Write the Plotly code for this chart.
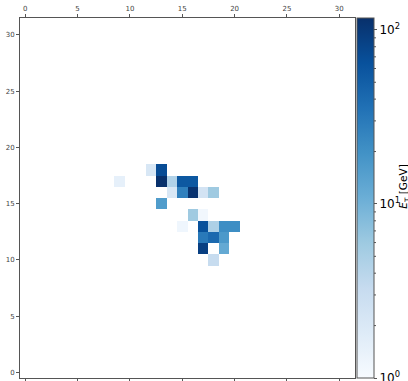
import numpy as np
import plotly.graph_objects as go

# Tower coordinates (eta index, phi index) and deposited E_T [GeV]
cell_x = [9, 12, 13, 13, 14, 15, 16, 14, 15, 16, 17, 18, 13, 16, 17, 15, 17, 18, 19, 20, 17, 18, 19, 17, 19, 18]
cell_y = [17, 18, 18, 17, 17, 17, 17, 16, 16, 16, 16, 16, 15, 14, 14, 13, 13, 13, 13, 13, 12, 12, 12, 11, 11, 10]
cell_et = [1.5, 2.1, 70, 115, 4.5, 57, 57, 2.1, 27, 110, 2.4, 5.9, 16, 5.9, 1.15, 1.2, 65, 4.8, 21, 21, 31, 41, 17, 89, 12, 3.2]

grid_n = 32
x_ticks = [0, 5, 10, 15, 20, 25, 30]
y_ticks = [0, 5, 10, 15, 20, 25, 30]
cbar_decades = [1, 10, 100]
cbar_labels = ["10<sup>0</sup>", "10<sup>1</sup>", "10<sup>2</sup>"]
cbar_minor = [2, 3, 4, 5, 6, 7, 8, 9, 20, 30, 40, 50, 60, 70, 80, 90]
cbar_title = "<i>E</i><sub>T</sub> [GeV]"
et_min, et_max = 1.0, 117.0

blues = [
    [0.0, "rgb(247,251,255)"], [0.125, "rgb(222,235,247)"], [0.25, "rgb(198,219,239)"],
    [0.375, "rgb(158,202,225)"], [0.5, "rgb(107,174,214)"], [0.625, "rgb(66,146,198)"],
    [0.75, "rgb(33,113,181)"], [0.875, "rgb(8,81,156)"], [1.0, "rgb(8,48,107)"],
]

W, H = 408, 381
ML, MR, MT, MB = 20, 53, 18, 3
plot_w = W - ML - MR
cb_x = 1.006
cb_thick = 17

zmin, zmax = np.log10(et_min), np.log10(et_max)

z = np.full((grid_n, grid_n), np.nan)
for i, j, v in zip(cell_x, cell_y, cell_et):
    z[j, i] = np.log10(v)

fig = go.Figure(go.Heatmap(
    z=z,
    x=list(range(grid_n)),
    y=list(range(grid_n)),
    colorscale=blues,
    zmin=zmin,
    zmax=zmax,
    hoverongaps=False,
    colorbar=dict(
        x=cb_x, xanchor="left", xpad=0, y=0.5, yanchor="middle", ypad=0,
        len=1.0, lenmode="fraction", thickness=cb_thick,
        outlinewidth=1, outlinecolor="#555",
        tickvals=[np.log10(d) for d in cbar_decades], ticktext=cbar_labels,
        ticks="outside", ticklen=3, tickcolor="#555",
        ticklabeloverflow="allow",
        tickfont=dict(size=12, color="black", family="DejaVu Sans"),
    ),
))

# minor ticks on the colour bar (right edge, outside)
cb_right = cb_x + cb_thick / plot_w
for m in cbar_minor:
    yy = (np.log10(m) - zmin) / (zmax - zmin)
    fig.add_shape(type="line", xref="paper", yref="paper",
                  x0=cb_right, x1=cb_right + 2 / plot_w, y0=yy, y1=yy,
                  line=dict(color="#555", width=1))

# colour bar label
fig.add_annotation(text=cbar_title, xref="paper", yref="paper",
                   x=(404.5 - ML) / plot_w, y=0.53, xanchor="center", yanchor="middle",
                   textangle=-90, showarrow=False,
                   font=dict(size=10.5, color="black", family="DejaVu Sans"))

axis_common = dict(
    showgrid=False, zeroline=False, showline=True, linecolor="#555", linewidth=1,
    ticks="outside", ticklen=3, tickcolor="#555",
    tickfont=dict(size=7, color="#444", family="DejaVu Sans"),
    range=[-0.5, grid_n - 0.5],
)
fig.update_xaxes(side="top", tickvals=x_ticks, mirror="ticks", **axis_common)
fig.update_yaxes(tickvals=y_ticks, mirror=True, **axis_common)

fig.update_layout(
    width=W, height=H,
    margin=dict(l=ML, r=MR, t=MT, b=MB, autoexpand=False),
    paper_bgcolor="white", plot_bgcolor="white",
)

fig.write_html("out.html", config={"displayModeBar": False},
               post_script="document.body.style.margin='0';")
